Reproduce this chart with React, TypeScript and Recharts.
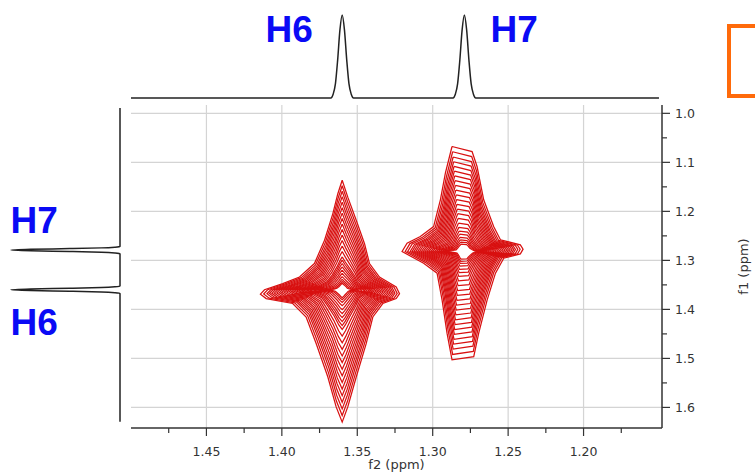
import React from 'react';
import {
  ScatterChart,
  Scatter,
  LineChart,
  Line,
  XAxis,
  YAxis,
  CartesianGrid,
} from 'recharts';

const W = 755;
const H = 475;
const RED = '#d81010';
const INK = '#333333';
const BLUE = '#0a0af5';
const FONT = '"DejaVu Sans", Verdana, sans-serif';

// axis ranges (ppm), f2 runs right-to-left, f1 top-to-bottom
const f2Domain: [number, number] = [1.148, 1.5];
const f1Domain: [number, number] = [0.983, 1.642];
const f2Ticks = [1.475, 1.45, 1.425, 1.4, 1.375, 1.35, 1.325, 1.3, 1.275, 1.25, 1.225, 1.2, 1.175];
const f1Ticks = [1.0, 1.05, 1.1, 1.15, 1.2, 1.25, 1.3, 1.35, 1.4, 1.45, 1.5, 1.55, 1.6];
const f2Grid = [1.45, 1.4, 1.35, 1.3, 1.25, 1.2];
const f1Grid = [1.0, 1.1, 1.2, 1.3, 1.4, 1.5, 1.6];

// 1D projections: peak shifts and the line profile
const peakPpm = [1.36, 1.279];
const profileOffset = [-0.0075, -0.006, -0.0045, -0.003, -0.0015, 0, 0.0015, 0.003, 0.0045, 0.006, 0.0075];
const profileHeight = [0, 0.045, 0.17, 0.46, 0.82, 1, 0.82, 0.46, 0.17, 0.045, 0];
const topRange = [1.5, 1.15];
const sideRange = [0.989, 1.629];

// 2D cross peaks: centre [f2, f1], outer contour offsets [df2, df1], level scales [h, v]
const h6Center = [1.36, 1.36];
const h6Outline: [number, number][] = [
  [0, -0.2235], [-0.0037, -0.189], [-0.0093, -0.142], [-0.0148, -0.094], [-0.0181, -0.0535],
  [-0.0247, -0.026], [-0.0358, -0.0057], [-0.038, 0.0078], [-0.0358, 0.018], [-0.0269, 0.028],
  [-0.0203, 0.0555], [-0.0159, 0.11], [-0.0093, 0.178], [-0.0037, 0.239], [0, 0.27],
  [0.004, 0.239], [0.0095, 0.178], [0.0172, 0.11], [0.0239, 0.0555], [0.0328, 0.028],
  [0.0504, 0.018], [0.0542, 0.009], [0.0515, 0], [0.0394, -0.0127], [0.0283, -0.026],
  [0.0184, -0.0535], [0.0117, -0.101], [0.0062, -0.1555], [0.0029, -0.196],
];
const h6Levels: [number, number][] = [
  [1, 1], [0.96, 0.95], [0.92, 0.9], [0.89, 0.85], [0.86, 0.8], [0.83, 0.75], [0.8, 0.7],
  [0.77, 0.65], [0.74, 0.6], [0.71, 0.55], [0.68, 0.5], [0.65, 0.45], [0.62, 0.4], [0.59, 0.35],
  [0.56, 0.3], [0.53, 0.27], [0.5, 0.24], [0.47, 0.21], [0.43, 0.18], [0.39, 0.15], [0.34, 0.12],
  [0.29, 0.095], [0.24, 0.075], [0.19, 0.06],
];

const h7Center = [1.279, 1.282];
const h7Outline: [number, number][] = [
  [0.0082, -0.2143], [-0.0051, -0.204], [-0.0084, -0.1735], [-0.0128, -0.1055], [-0.0194, -0.051],
  [-0.0239, -0.0239], [-0.0371, -0.0137], [-0.0389, -0.0049], [-0.0371, 0.0047], [-0.0261, 0.0135],
  [-0.0206, 0.0441], [-0.0151, 0.0986], [-0.0095, 0.1665], [-0.0062, 0.2143], [0.0082, 0.221],
  [0.0115, 0.1665], [0.0148, 0.0986], [0.0181, 0.0441], [0.027, 0.0237], [0.0413, 0],
  [0.038, -0.0171], [0.0292, -0.0306], [0.0204, -0.051], [0.0159, -0.1055], [0.0126, -0.16],
];
const h7Levels: [number, number][] = [
  [1, 1], [0.95, 0.95], [0.91, 0.9], [0.87, 0.855], [0.84, 0.81], [0.81, 0.765], [0.78, 0.72],
  [0.75, 0.675], [0.72, 0.63], [0.69, 0.585], [0.66, 0.54], [0.63, 0.495], [0.6, 0.45], [0.57, 0.405],
  [0.54, 0.36], [0.51, 0.315], [0.48, 0.27], [0.45, 0.23], [0.42, 0.195], [0.39, 0.165], [0.36, 0.135],
  [0.33, 0.11], [0.3, 0.09], [0.27, 0.07],
];

function buildTrace(range: number[]) {
  const rows = [{ ppm: range[0], i: 0 }, { ppm: range[1], i: 0 }];
  peakPpm.forEach((c) =>
    profileOffset.forEach((o, k) => rows.push({ ppm: +(c + o).toFixed(4), i: profileHeight[k] }))
  );
  return rows.sort((a, b) => a.ppm - b.ppm);
}

function buildContours(center: number[], outline: [number, number][], levels: [number, number][]) {
  return levels.map(([h, v]) => {
    const pts = outline.map(([dx, dy]) => ({ x: center[0] + dx * h, y: center[1] + dy * v }));
    pts.push(pts[0]);
    return pts;
  });
}

const topTrace = buildTrace(topRange).reverse();
const sideTrace = buildTrace(sideRange);
const contours = [
  ...buildContours(h6Center, h6Outline, h6Levels),
  ...buildContours(h7Center, h7Outline, h7Levels),
];

const noDot = () => <g />;

const F2Tick = (props: any) => {
  const { x, y, payload } = props;
  const v = payload.value;
  const major = Math.round(v * 1000) % 50 === 0;
  return (
    <g>
      <line x1={x} x2={x} y1={y} y2={y + (major ? 8 : 5)} stroke={INK} strokeWidth={1.2} />
      {major && (
        <text x={x} y={y + 28} textAnchor="middle" fontSize={12.5} fill={INK} fontFamily={FONT}>
          {v.toFixed(2)}
        </text>
      )}
    </g>
  );
};

const F1Tick = (props: any) => {
  const { x, y, payload } = props;
  const v = payload.value;
  const major = Math.round(v * 100) % 10 === 0;
  return (
    <g>
      <line x1={x} x2={x + (major ? 8 : 5)} y1={y} y2={y} stroke={INK} strokeWidth={1.2} />
      {major && (
        <text x={x + 13} y={y} dy="0.36em" textAnchor="start" fontSize={12.5} fill={INK} fontFamily={FONT}>
          {v.toFixed(1)}
        </text>
      )}
    </g>
  );
};

const F2Title = ({ viewBox }: any) => (
  <text
    x={viewBox.x + viewBox.width / 2}
    y={viewBox.y + 41}
    textAnchor="middle"
    fontSize={13}
    fill={INK}
    fontFamily={FONT}
  >
    f2 (ppm)
  </text>
);

const F1Title = ({ viewBox }: any) => {
  const cx = viewBox.x + 81;
  const cy = viewBox.y + viewBox.height / 2;
  return (
    <text
      x={cx}
      y={cy}
      transform={`rotate(-90 ${cx} ${cy})`}
      textAnchor="middle"
      dy="0.36em"
      fontSize={13}
      fill={INK}
      fontFamily={FONT}
    >
      f1 (ppm)
    </text>
  );
};

export default function App() {
  return (
    <div style={{ position: 'absolute', left: 0, top: 0, width: W, height: H, overflow: 'hidden', background: '#fff' }}>
      <div style={{ position: 'absolute', left: 0, top: 0 }}>
        <ScatterChart width={W} height={H} margin={{ top: 105, right: 0, bottom: 0, left: 131 }}>
          <CartesianGrid stroke="#d4d4d4" strokeWidth={1.2} verticalValues={f2Grid} horizontalValues={f1Grid} />
          <XAxis
            dataKey="x"
            type="number"
            domain={f2Domain}
            reversed
            allowDataOverflow
            ticks={f2Ticks}
            interval={0}
            tick={F2Tick}
            tickLine={false}
            tickSize={0}
            tickMargin={0}
            height={47}
            axisLine={{ stroke: INK, strokeWidth: 1.5 }}
            label={F2Title}
          />
          <YAxis
            dataKey="y"
            type="number"
            orientation="right"
            domain={f1Domain}
            reversed
            allowDataOverflow
            ticks={f1Ticks}
            interval={0}
            tick={F1Tick}
            tickLine={false}
            tickSize={0}
            tickMargin={0}
            width={93}
            axisLine={{ stroke: INK, strokeWidth: 1.5 }}
            label={F1Title}
          />
          {contours.map((pts, k) => (
            <Scatter
              key={k}
              data={pts}
              line={{ stroke: RED, strokeWidth: 1.25 }}
              shape={noDot}
              isAnimationActive={false}
            />
          ))}
        </ScatterChart>
      </div>

      <div style={{ position: 'absolute', left: 0, top: 0 }}>
        <LineChart width={W} height={100} data={topTrace} margin={{ top: 15, right: 93, bottom: 2, left: 131 }}>
          <XAxis dataKey="ppm" type="number" domain={f2Domain} reversed allowDataOverflow hide />
          <YAxis type="number" domain={[0, 1]} hide />
          <Line dataKey="i" type="monotone" stroke="#222" strokeWidth={1.5} dot={false} isAnimationActive={false} />
        </LineChart>
      </div>

      <div style={{ position: 'absolute', left: 0, top: 0 }}>
        <LineChart
          layout="vertical"
          width={140}
          height={H}
          data={sideTrace}
          margin={{ top: 105, right: 20, bottom: 47, left: 11 }}
        >
          <XAxis type="number" domain={[0, 1]} reversed hide />
          {/* vertical layout already runs the category axis top-to-bottom */}
          <YAxis dataKey="ppm" type="number" domain={f1Domain} allowDataOverflow hide />
          <Line dataKey="i" type="monotone" stroke="#222" strokeWidth={1.5} dot={false} isAnimationActive={false} />
        </LineChart>
      </div>

      <svg width={W} height={H} style={{ position: 'absolute', left: 0, top: 0, pointerEvents: 'none' }}>
        <g fontFamily='"Liberation Sans", Arial, sans-serif' fontWeight="bold" fontSize={37} fill={BLUE}>
          <text x={265.5} y={41.7}>H6</text>
          <text x={490.5} y={41.7}>H7</text>
          <text x={10.5} y={233.3}>H7</text>
          <text x={10.5} y={335}>H6</text>
        </g>
        <rect x={729} y={26} width={60} height={70} fill="none" stroke="#ff6a0a" strokeWidth={4} />
      </svg>
    </div>
  );
}
